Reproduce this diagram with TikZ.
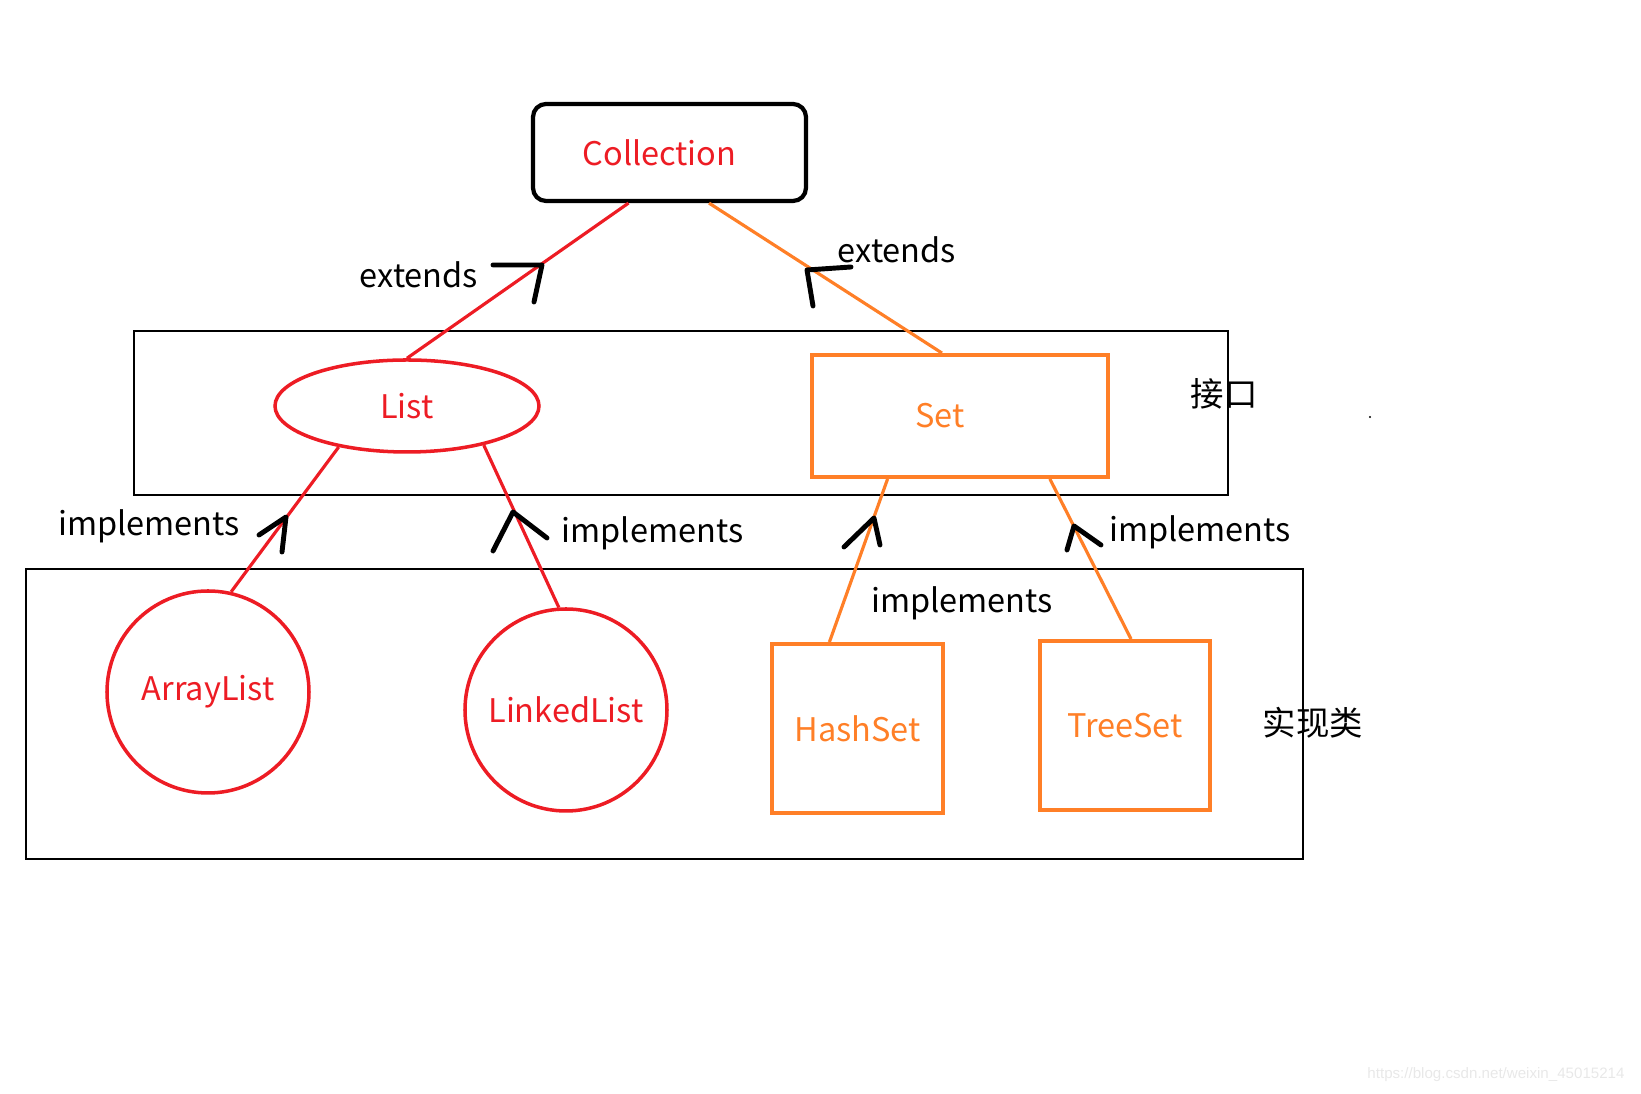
\documentclass[tikz,border=0pt]{standalone}
\usepackage{fontspec}
\setmainfont{Noto Sans CJK SC}
\newfontfamily\wmfont{Liberation Sans}
\usetikzlibrary{shapes.geometric}
\definecolor{paintred}{HTML}{ED1C24}
\definecolor{paintorange}{HTML}{FF7F27}

\begin{document}
\begin{tikzpicture}
\tikzstyle{label text}=[font=\fontsize{9.25}{11}\selectfont,inner sep=0pt]
\tikzstyle{cjk text}=[font=\fontsize{9.5}{11}\selectfont,inner sep=0pt]
\tikzstyle{red node}=[label text,draw=paintred,text=paintred,line width=1pt]
\tikzstyle{orange node}=[label text,draw=paintorange,text=paintorange,line width=1.1pt]
\tikzstyle{red line}=[draw=paintred,line width=0.9pt]
\tikzstyle{orange line}=[draw=paintorange,line width=0.9pt]
\tikzstyle{hand tip}=[line width=1.4pt,line cap=round,line join=round]

\useasboundingbox (0,0) rectangle (16.41,10.94);

% layer boxes
\draw[line width=0.4pt] (1.34,7.63) rectangle (12.28,5.99);
\draw[line width=0.4pt] (0.26,5.25) rectangle (13.03,2.35);

\node[label text,draw,line width=1.2pt,rounded corners=0.13cm,minimum width=2.73cm,minimum height=0.97cm,text=paintred] (v1) at (6.695,9.415) {\hspace*{-0.2cm}Collection};
\node[red node,ellipse,minimum width=2.64cm,minimum height=0.92cm] (v2) at (4.07,6.88) {List};
\node[orange node,minimum width=2.96cm,minimum height=1.22cm] (v3) at (9.60,6.78) {\hspace*{-0.4cm}Set};
\node[red node,circle,minimum size=2.02cm] (v4) at (2.08,4.02) {ArrayList};
\node[red node,circle,minimum size=2.02cm] (v5) at (5.66,3.84) {LinkedList};
\node[orange node,minimum width=1.71cm,minimum height=1.69cm] (v6) at (8.575,3.655) {HashSet};
\node[orange node,minimum width=1.70cm,minimum height=1.69cm] (v7) at (11.25,3.685) {TreeSet};

\draw[red line] (v1.231) -- (v2.north);
\draw[orange line] (v1.308) -- (v3.106);
\draw[red line] (v2.211) -- (v4.77);
\draw[red line] (v2.333) -- (v5.94);
\draw[orange line] (v3.221) -- (v6.108);
\draw[orange line] (v3.325) -- (v7.86);

% hand drawn heads
\draw[hand tip] (4.93,8.29) -- (5.42,8.29) -- (5.34,7.92);
\draw[hand tip] (8.51,8.27) -- (8.07,8.24) -- (8.13,7.88);
\draw[hand tip] (2.59,5.59) -- (2.86,5.77) -- (2.82,5.42);
\draw[hand tip] (4.93,5.43) -- (5.13,5.82) -- (5.47,5.56);
\draw[hand tip] (8.44,5.47) -- (8.74,5.76) -- (8.80,5.49);
\draw[hand tip] (10.67,5.44) -- (10.74,5.68) -- (11.01,5.49);

\node[label text] (e1) at (4.19,8.19) {extends};
\node[label text] (e2) at (8.97,8.44) {extends};
\node[label text] (i1) at (1.49,5.68) {implements};
\node[label text] (i2) at (6.525,5.61) {implements};
\node[label text] (i3) at (9.62,4.91) {implements};
\node[label text] (i4) at (12.00,5.62) {implements};
\node[cjk text] (c1) at (12.24,7.00) {接口};
\node[cjk text] (c2) at (13.13,3.71) {实现类};

\fill (13.70,6.77) circle (0.012);
\node[font=\wmfont\fontsize{4.3}{5}\selectfont,text=black!9] (wm) at (14.96,0.19) {https://blog.csdn.net/weixin\_45015214};
\end{tikzpicture}
\end{document}
